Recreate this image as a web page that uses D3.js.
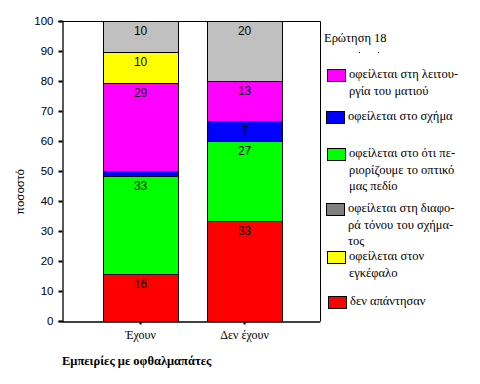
<!DOCTYPE html>
<html><head><meta charset="utf-8">
<script src="https://cdn.jsdelivr.net/npm/d3@7/dist/d3.min.js"></script>
<style>body{margin:0;background:#fff}svg{display:block}</style>
</head><body>
<svg id="c" width="480" height="384"></svg>
<script>
const categories = ["Έχουν", "Δεν έχουν"];
const seriesNames = ["δεν απάντησαν", "οφείλεται στο ότι περιορίζουμε το οπτικό μας πεδίο", "οφείλεται στο σχήμα", "οφείλεται στη λειτουργία του ματιού", "οφείλεται στον εγκέφαλο", "οφείλεται στη διαφορά τόνου του σχήματος"];
const redValues = [15.6, 33.3];
const greenValues = [32.7, 26.7];
const blueValues = [1.7, 6.7];
const magentaValues = [29.3, 13.3];
const yellowValues = [10.3, 0];
const grayValues = [10.4, 20];
const seriesValues = [redValues, greenValues, blueValues, magentaValues, yellowValues, grayValues];
const seriesColors = ["#ff0000", "#00ff00", "#0000ff", "#ff00ff", "#ffff00", "#c0c0c0"];
const legendSwatch = ["#ff0000", "#00ff00", "#0000ff", "#ff00ff", "#ffff00", "#808080"];
const yTicks = [0, 10, 20, 30, 40, 50, 60, 70, 80, 90, 100];
// legend order (top to bottom) and wrapped text lines
const legendOrder = [3, 2, 1, 5, 4, 0];
const legendLines = [
  ["δεν απάντησαν"],
  ["οφείλεται στο ότι πε-", "ριορίζουμε το οπτικό", "μας πεδίο"],
  ["οφείλεται στο σχήμα"],
  ["οφείλεται στη λειτου-", "ργία του ματιού"],
  ["οφείλεται στον", "εγκέφαλο"],
  ["οφείλεται στη διαφο-", "ρά τόνου του σχήμα-", "τος"]
];
const legendTitle = "Ερώτηση 18";
const xTitle = "Εμπειρίες με οφθαλμαπάτες";
const yTitle = "ποσοστό";

const svg = d3.select("#c");
const L = 62, R = 320, T = 21, B = 321;
const x = d3.scaleBand().domain(categories).range([L, R]).paddingInner(0.28).paddingOuter(0.38).align(0.52);
const y = d3.scaleLinear().domain([0, 100]).range([B, T]);

const rows = categories.map((c, i) => {
  const o = {cat: c};
  seriesNames.forEach((s, j) => o[j] = seriesValues[j][i]);
  return o;
});
const stack = d3.stack().keys(seriesNames.map((s, j) => j))(rows);

const g = svg.append("g");
stack.forEach((layer, j) => {
  layer.forEach((d, i) => {
    if (d[1] - d[0] <= 0) return;
    g.append("rect")
      .attr("x", Math.round(x(categories[i])) + 0.5)
      .attr("y", Math.round(y(d[1])) + 0.5)
      .attr("width", Math.round(x.bandwidth()))
      .attr("height", Math.round(y(d[0])) - Math.round(y(d[1])))
      .attr("fill", seriesColors[j])
      .attr("stroke", "#000").attr("stroke-width", 1);
    if (d[1] - d[0] >= 4) {
      g.append("text")
        .attr("x", x(categories[i]) + x.bandwidth() / 2)
        .attr("y", y(d[1]) + 14)
        .attr("text-anchor", "middle")
        .attr("font-family", "Liberation Sans, Arial, sans-serif")
        .attr("font-size", 12)
        .text(Math.round(d[1] - d[0]));
    }
  });
});

// frame
svg.append("path").attr("d", `M${L},${T + 0.5}H${R + 0.5}V${B}`).attr("fill", "none").attr("stroke", "#000");

// y axis
const ya = svg.append("g").attr("transform", `translate(${L + 0.5},0)`)
  .call(d3.axisLeft(y).tickValues(yTicks).tickSize(4).tickPadding(5));
ya.select(".domain").attr("stroke-width", 1.3);
ya.selectAll(".tick line").attr("stroke-width", 2);
ya.selectAll("text").attr("font-family", "Liberation Sans, Arial, sans-serif").attr("font-size", 11.5).attr("fill", "#000");

// x axis
const xa = svg.append("g").attr("transform", `translate(0,${B + 0.5})`)
  .call(d3.axisBottom(x).tickSize(3).tickPadding(6).tickSizeOuter(0));
xa.select(".domain").attr("stroke-width", 1.3);
xa.selectAll(".tick line").attr("stroke-width", 2);
xa.selectAll("text").attr("font-family", "Liberation Serif, Times New Roman, serif").attr("font-size", 12).attr("fill", "#000");

svg.append("text").attr("x", 62).attr("y", 365)
  .attr("font-family", "Liberation Serif, Times New Roman, serif").attr("font-weight", "bold").attr("font-size", 12.5)
  .text(xTitle);
svg.append("text").attr("transform", "translate(24,192) rotate(-90)").attr("text-anchor", "middle")
  .attr("font-family", "Liberation Sans, Arial, sans-serif").attr("font-size", 11.5)
  .text(yTitle);

// legend
svg.append("text").attr("x", 324).attr("y", 42)
  .attr("font-family", "Liberation Serif, Times New Roman, serif").attr("font-size", 12.5).text(legendTitle);
// two small stray dots under the legend title
svg.append("rect").attr("x", 359).attr("y", 52).attr("width", 1).attr("height", 1).attr("fill", "#000");
svg.append("rect").attr("x", 378).attr("y", 52).attr("width", 1).attr("height", 1).attr("fill", "#000");

const legendTop = [69, 111, 148, 203, 251, 296];
const legendX = [327, 326, 327, 326, 327, 328];
legendOrder.forEach((j, k) => {
  const lg = svg.append("g");
  lg.append("rect").attr("x", legendX[k] + 0.5).attr("y", legendTop[k] + 0.5).attr("width", 18).attr("height", 12)
    .attr("fill", legendSwatch[j]).attr("stroke", "#000");
  legendLines[j].forEach((line, li) => {
    lg.append("text").attr("x", legendX[k] + 22).attr("y", legendTop[k] + 9 + li * 16.5)
      .attr("font-family", "Liberation Serif, Times New Roman, serif").attr("font-size", 12.5).text(line);
  });
});
</script>
</body></html>
